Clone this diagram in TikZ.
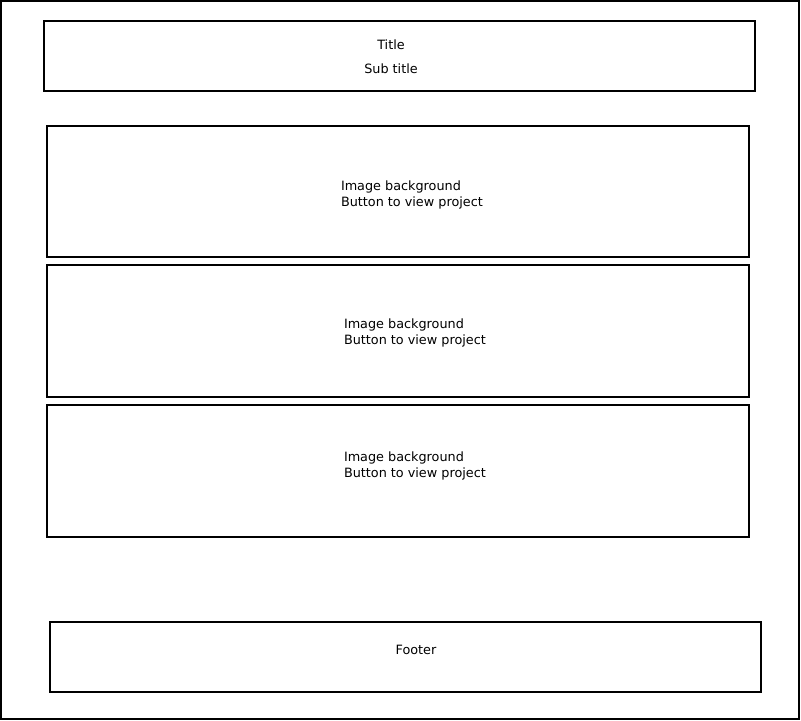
\documentclass[tikz,border=0pt]{standalone}
\usepackage{fontspec}
\setmainfont{DejaVu Sans}
\begin{document}
\begin{tikzpicture}[x=0.75pt,y=-0.75pt,line width=1.5pt]
    \tikzstyle{every node}=[font=\fontsize{9.6}{12}\selectfont,inner sep=0pt]
    \tikzstyle{line}=[anchor=base west]

    \useasboundingbox (0,0) rectangle (801,721);

    \draw (1,1) rectangle (799,719);

    \draw (44,21) rectangle (755,91);
    \node[anchor=base] (title) at (391,49) {Title};
    \node[anchor=base] (subtitle) at (391,73) {Sub title};

    \draw (47,126) rectangle (749,257);
    \node[line] (imgA) at (340,190) {Image background};
    \node[line] (btnA) at (340,206) {Button to view project};

    \draw (47,265) rectangle (749,397);
    \node[line] (imgB) at (343,328) {Image background};
    \node[line] (btnB) at (343,344) {Button to view project};

    \draw (47,405) rectangle (749,537);
    \node[line] (imgC) at (343,461) {Image background};
    \node[line] (btnC) at (343,477) {Button to view project};

    \draw (50,622) rectangle (761,692);
    \node[anchor=base] (footer) at (416,654) {Footer};
\end{tikzpicture}
\end{document}
